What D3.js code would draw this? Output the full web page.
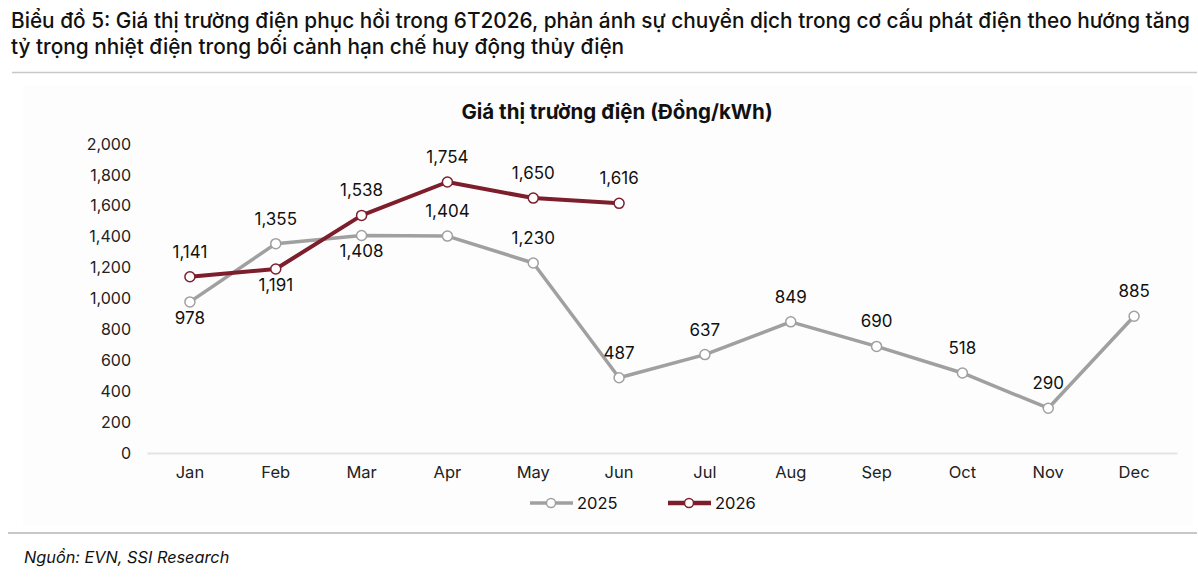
<!DOCTYPE html>
<html>
<head>
<meta charset="utf-8">
<script src="https://cdn.jsdelivr.net/npm/d3@7"></script>
<style>
  body { margin: 0; background: #fff; font-family: Inter, "Noto Sans", sans-serif; }
</style>
</head>
<body>
<div id="chart"></div>
<script>
const months = ["Jan", "Feb", "Mar", "Apr", "May", "Jun", "Jul", "Aug", "Sep", "Oct", "Nov", "Dec"];
const values2025 = [978, 1355, 1408, 1404, 1230, 487, 637, 849, 690, 518, 290, 885];
const values2026 = [1141, 1191, 1538, 1754, 1650, 1616];
// which labels go under the point
const below2025 = [true, false, true, false, false, false, false, false, false, false, false, false];
const below2026 = [false, true, false, false, false, false];
const yTicks = [0, 200, 400, 600, 800, 1000, 1200, 1400, 1600, 1800, 2000];

const width = 1198;
const height = 577;
const grey = "#a0a0a0";
const maroon = "#7d1e2c";

const svg = d3.select("#chart")
  .append("svg")
  .attr("width", width)
  .attr("height", height);

// title
const title = svg.append("text")
  .attr("x", 11)
  .attr("font-size", 20.8)
  .attr("font-weight", 500)
  .attr("fill", "#111");
title.append("tspan").attr("x", 11).attr("y", 28)
  .text("Biểu đồ 5: Giá thị trường điện phục hồi trong 6T2026, phản ánh sự chuyển dịch trong cơ cấu phát điện theo hướng tăng");
title.append("tspan").attr("x", 11).attr("y", 54)
  .text("tỷ trọng nhiệt điện trong bối cảnh hạn chế huy động thủy điện");

svg.append("line")
  .attr("x1", 12).attr("x2", 1197)
  .attr("y1", 72.5).attr("y2", 72.5)
  .attr("stroke", "#c8c8c8").attr("stroke-width", 1.5);

svg.append("rect")
  .attr("x", 23).attr("y", 85)
  .attr("width", 1170).attr("height", 440)
  .attr("fill", "#fdfdfd");

svg.append("text")
  .attr("x", 617).attr("y", 119)
  .attr("text-anchor", "middle")
  .attr("font-size", 20.5)
  .attr("font-weight", 700)
  .attr("fill", "#111")
  .text("Giá thị trường điện (Đồng/kWh)");

const x = d3.scaleBand().domain(months).range([147, 1177]);
const y = d3.scaleLinear().domain([0, 2000]).range([453, 144]);
const cx = (d, i) => x(months[i]) + x.bandwidth() / 2;

// y axis labels
const yAxis = svg.append("g")
  .attr("transform", "translate(131,0)")
  .call(d3.axisLeft(y).tickValues(yTicks).tickSize(0).tickPadding(0).tickFormat(d3.format(",")));
yAxis.select(".domain").remove();
yAxis.selectAll("text")
  .attr("font-family", "Inter, sans-serif")
  .attr("font-size", 16)
  .attr("fill", "#222");

// x axis
const xAxis = svg.append("g")
  .attr("transform", `translate(0,${y(0)})`)
  .call(d3.axisBottom(x).tickSize(0).tickPadding(13));
xAxis.select(".domain").attr("stroke", "#e3e3e3").attr("stroke-width", 2);
xAxis.selectAll("text")
  .attr("font-family", "Inter, sans-serif")
  .attr("font-size", 16.5)
  .attr("fill", "#222");

const line = d3.line().x(cx).y((d) => y(d));

function drawSeries(values, color, strokeWidth, below) {
  svg.append("path")
    .datum(values)
    .attr("fill", "none")
    .attr("stroke", color)
    .attr("stroke-width", strokeWidth)
    .attr("stroke-linejoin", "round")
    .attr("d", line);

  svg.append("g").selectAll("circle")
    .data(values)
    .join("circle")
    .attr("cx", cx)
    .attr("cy", (d) => y(d))
    .attr("r", 5)
    .attr("fill", "#fff")
    .attr("stroke", color)
    .attr("stroke-width", 1.5);

  svg.append("g").selectAll("text")
    .data(values)
    .join("text")
    .attr("x", cx)
    .attr("y", (d, i) => (below[i] ? y(d) + 22 : y(d) - 19))
    .attr("text-anchor", "middle")
    .attr("font-size", 17)
    .attr("fill", "#111")
    .text((d) => d3.format(",")(d));
}

drawSeries(values2025, grey, 3.5, below2025);
drawSeries(values2026, maroon, 4, below2026);

// legend
const legend = [
  { name: "2025", color: grey, sw: 3.5, x: 530 },
  { name: "2026", color: maroon, sw: 4.5, x: 668 },
];
const lg = svg.append("g").selectAll("g")
  .data(legend)
  .join("g")
  .attr("transform", (d) => `translate(${d.x},503)`);
lg.append("line")
  .attr("x1", 0).attr("x2", 43)
  .attr("stroke", (d) => d.color)
  .attr("stroke-width", (d) => d.sw);
lg.append("circle")
  .attr("cx", 21).attr("r", 4.5)
  .attr("fill", "#fff")
  .attr("stroke", (d) => d.color)
  .attr("stroke-width", 1.5);
lg.append("text")
  .attr("x", 47).attr("y", 6)
  .attr("font-size", 16.5)
  .attr("fill", "#111")
  .text((d) => d.name);

svg.append("line")
  .attr("x1", 8).attr("x2", 1197)
  .attr("y1", 533).attr("y2", 533)
  .attr("stroke", "#c8c8c8").attr("stroke-width", 2);

svg.append("text")
  .attr("x", 24).attr("y", 563)
  .attr("font-size", 16.3)
  .attr("font-style", "italic")
  .attr("fill", "#111")
  .text("Nguồn: EVN, SSI Research");
</script>
</body>
</html>
